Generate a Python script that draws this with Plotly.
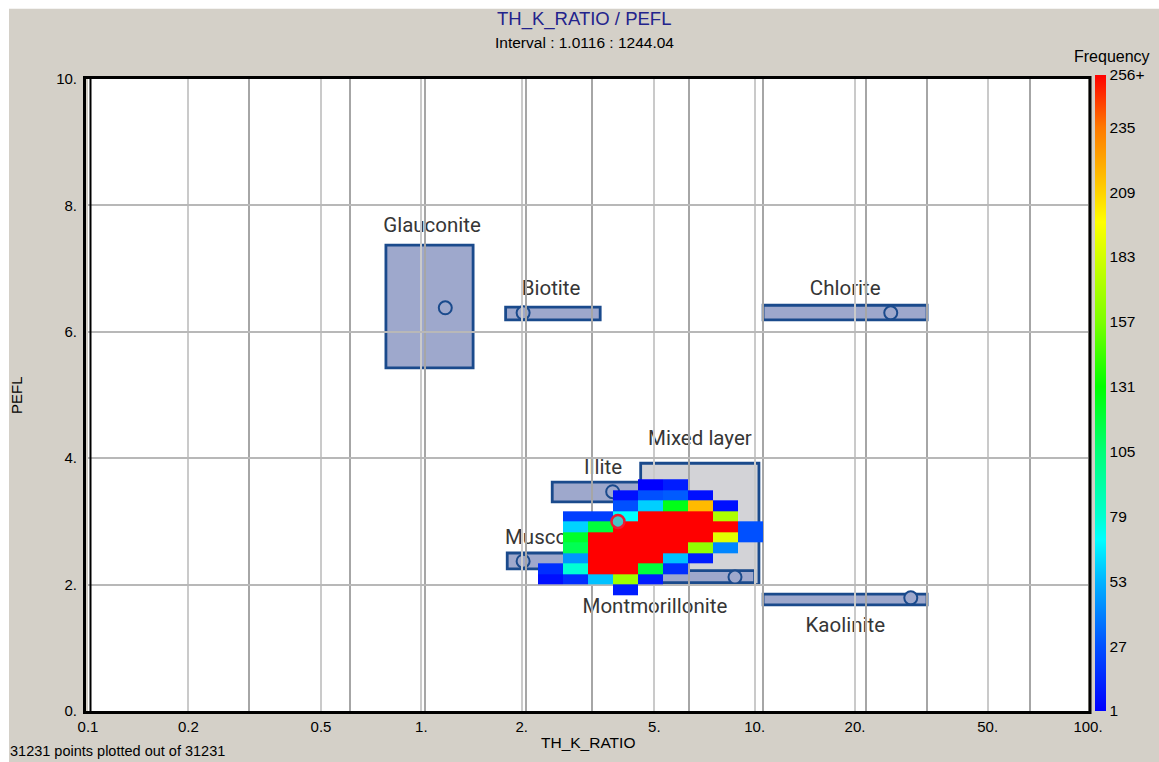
import plotly.graph_objects as go

# ---- frequency grid -------------------------------------------------------
# Columns: log10(TH_K_RATIO) bins of width 0.075 starting at -1 (bins 18..26)
# Rows:    PEFL bins of width 1/6 starting at 0 (bins 11..21)
col_bins = list(range(18, 27))
row_bins = list(range(11, 22))
counts = [
    [None, None, None, 10, None, None, None, None, None],        # PEFL bin 11
    [6, 16, 56, 167, 10, None, None, None, None],                 # 12
    [16, 78, 640, 820, 118, 16, None, None, None],                # 13
    [None, 45, 1350, 1680, 760, 56, 10, None, None],              # 14
    [None, 113, 1520, 1950, 2010, 980, 163, 41, None],            # 15
    [None, 122, 1180, 2460, 2400, 1850, 690, 188, 27],            # 16
    [None, 60, 118, 1420, 1820, 1760, 1040, 530, 27],             # 17
    [None, 21, 21, 70, 720, 910, 480, 172, None],                 # 18
    [None, None, None, 27, 59, 126, 216, 6, None],                # 19
    [None, None, None, 6, 27, 30, 6, None, None],                 # 20
    [None, None, None, None, 1, 10, None, None, None],            # 21
]
x_edges = [10 ** (-1 + 0.075 * k) for k in col_bins + [col_bins[-1] + 1]]
y_edges = [j / 6 for j in row_bins + [row_bins[-1] + 1]]

# ---- mineral reference zones ----------------------------------------------
mineral_names = ["Glauconite", "Biotite", "Chlorite", "Illite", "Muscovite",
                 "Mixed layer", "Montmorillonite", "Kaolinite"]
th_k_lo = [0.783, 1.79, 10.6, 2.47, 1.81, 4.55, 2.48, 10.6]
th_k_hi = [1.43, 3.44, 32.9, 4.99, 3.37, 10.3, 10.0, 32.9]
pefl_lo = [5.43, 6.19, 6.19, 3.31, 2.25, 2.00, 2.03, 1.68]
pefl_hi = [7.37, 6.39, 6.42, 3.62, 2.50, 3.92, 2.22, 1.85]
point_th_k = [1.18, 2.02, 25.6, 3.75, 2.02, None, 8.73, 29.4]
point_pefl = [6.38, 6.30, 6.30, 3.47, 2.37, None, 2.12, 1.79]

# label anchor points (data coordinates)
label_th_k = [1.077, 2.45, 18.7, 3.51, 2.47, 6.85, 5.02, 18.7]
label_pefl = [7.72, 6.72, 6.71, 3.89, 2.77, 4.35, 1.68, 1.39]

# highlighted sample
sample_th_k = [3.89]
sample_pefl = [3.0]

# ---- axes ------------------------------------------------------------------
x_ticks = [0.1, 0.2, 0.5, 1, 2, 5, 10, 20, 50, 100]
x_ticktext = ["0.1", "0.2", "0.5", "1.", "2.", "5.", "10.", "20.", "50.", "100."]
x_minor_grid = [0.304, 0.611, 1.026, 2.06, 3.25, 6.35, 10.6, 21.6, 32.9, 67.0]
y_ticks = [0, 2, 4, 6, 8, 10]
y_ticktext = ["0.", "2.", "4.", "6.", "8.", "10."]

cbar_vals = [1, 27, 53, 79, 105, 131, 157, 183, 209, 235, 256]
cbar_text = ["1", "27", "53", "79", "105", "131", "157", "183", "209", "235", "256+"]

jet = [
    [0.000, "#0000ff"],
    [0.102, "#0050ff"],
    [0.204, "#00b4ff"],
    [0.270, "#00ffff"],
    [0.306, "#00ffd0"],
    [0.408, "#00ff78"],
    [0.510, "#00ff00"],
    [0.612, "#7cff00"],
    [0.714, "#d2ff00"],
    [0.769, "#ffff00"],
    [0.816, "#ffd200"],
    [0.918, "#ff7800"],
    [1.000, "#ff0000"],
]

BOX_FILL = "#9ea8cc"
BOX_LINE = "#1a4a8c"
MIXED_FILL = "#d3d3d7"
TEXT_FONT = "Liberation Sans, Arial, sans-serif"
LABEL_FONT = "Roboto, sans-serif"

# marker radius for the zone points: 6.5 px horizontally (log axis, 333.3 px
# per decade) and vertically (63.2 px per PEFL unit)
R_LOG = 10 ** (6.5 / 333.33)
R_LIN = 6.5 / 63.2

fig = go.Figure()

fig.add_trace(go.Heatmap(
    x=x_edges, y=y_edges, z=counts,
    zmin=1, zmax=256, colorscale=jet, zsmooth=False,
    hoverongaps=False,
    colorbar=dict(
        x=1.007, xanchor="left", xpad=0,
        y=0.5032, yanchor="middle", ypad=0,
        len=1.0063, lenmode="fraction", thickness=11,
        outlinewidth=0, ticks="",
        tickvals=cbar_vals, ticktext=cbar_text,
        tickfont=dict(family=TEXT_FONT, size=15.5, color="#000000"),
    ),
))

fig.add_trace(go.Scatter(
    x=sample_th_k, y=sample_pefl, mode="markers",
    marker=dict(size=13, color="#48c4c4", line=dict(color="#f01830", width=2.5)),
    showlegend=False, hoverinfo="skip",
))

shapes = []
# grey panel with a thin white rim on the left and top
shapes.append(dict(type="rect", xref="paper", yref="paper",
                   x0=-0.088, x1=-0.079, y0=-0.09, y1=1.13,
                   fillcolor="#ffffff", line=dict(width=0), layer="below"))
shapes.append(dict(type="rect", xref="paper", yref="paper",
                   x0=-0.09, x1=1.08, y0=1.111, y1=1.13,
                   fillcolor="#ffffff", line=dict(width=0), layer="below"))

for i, name in enumerate(mineral_names):
    fill = MIXED_FILL if name == "Mixed layer" else BOX_FILL
    shapes.append(dict(type="rect", xref="x", yref="y",
                       x0=th_k_lo[i], x1=th_k_hi[i], y0=pefl_lo[i], y1=pefl_hi[i],
                       fillcolor=fill, line=dict(color=BOX_LINE, width=2.8),
                       layer="below"))
    if point_th_k[i] is not None:
        shapes.append(dict(type="circle", xref="x", yref="y",
                           x0=point_th_k[i] / R_LOG, x1=point_th_k[i] * R_LOG,
                           y0=point_pefl[i] - R_LIN, y1=point_pefl[i] + R_LIN,
                           fillcolor=fill, line=dict(color=BOX_LINE, width=2),
                           layer="below"))

for i, name in enumerate(mineral_names):
    shapes.append(dict(type="rect", xref="x", yref="y",
                       x0=label_th_k[i] / 1.001, x1=label_th_k[i] * 1.001,
                       y0=label_pefl[i] - 0.001, y1=label_pefl[i] + 0.001,
                       fillcolor="rgba(0,0,0,0)", line=dict(width=0),
                       layer="below",
                       label=dict(text=name, textposition="middle center",
                                  font=dict(family=LABEL_FONT, size=20.5,
                                            color="#363636"))))

# plot frame
shapes.append(dict(type="rect", xref="paper", yref="paper",
                   x0=-0.0035, x1=1.002, y0=-0.0024, y1=1.0024,
                   line=dict(color="#000000", width=3), layer="above"))
shapes.append(dict(type="line", xref="paper", yref="paper",
                   x0=0.0025, x1=0.0025, y0=-0.0024, y1=1.0024,
                   line=dict(color="#000000", width=2), layer="above"))

annotations = [
    dict(text="TH_K_RATIO / PEFL", x=0.496, y=1.095, xref="paper", yref="paper",
         showarrow=False, xanchor="center", yanchor="middle",
         font=dict(family=TEXT_FONT, size=18.5, color="#23238c")),
    dict(text="Interval : 1.0116 : 1244.04", x=0.496, y=1.057, xref="paper", yref="paper",
         showarrow=False, xanchor="center", yanchor="middle",
         font=dict(family=TEXT_FONT, size=15.5, color="#000000")),
    dict(text="Frequency", x=1.024, y=1.035, xref="paper", yref="paper",
         showarrow=False, xanchor="center", yanchor="middle",
         font=dict(family=TEXT_FONT, size=16, color="#000000")),
    dict(text="TH_K_RATIO", x=0.5, y=-0.0506, xref="paper", yref="paper",
         showarrow=False, xanchor="center", yanchor="middle",
         font=dict(family=TEXT_FONT, size=15.5, color="#000000")),
    dict(text="PEFL", x=-0.072, y=0.5, xref="paper", yref="paper",
         showarrow=False, xanchor="center", yanchor="middle", textangle=-90,
         font=dict(family=TEXT_FONT, size=15, color="#000000")),
    dict(text="31231 points plotted out of 31231", x=-0.08, y=-0.0795,
         xref="paper", yref="paper", showarrow=False,
         xanchor="left", yanchor="bottom",
         font=dict(family=TEXT_FONT, size=14.5, color="#000000")),
]

fig.update_layout(
    width=1159, height=762,
    margin=dict(l=88, r=71, t=79, b=51),
    paper_bgcolor="#d4d0c8", plot_bgcolor="#ffffff",
    showlegend=False,
    shapes=shapes, annotations=annotations,
    xaxis=dict(
        type="log", range=[-1, 2],
        tickvals=x_ticks, ticktext=x_ticktext,
        ticks="outside", ticklen=2, tickcolor="rgba(0,0,0,0)",
        tickfont=dict(family=TEXT_FONT, size=15, color="#000000"),
        showgrid=True, gridcolor="#cacaca", gridwidth=1.5,
        minor=dict(tickvals=x_minor_grid, showgrid=True,
                   gridcolor="#a6a6a6", gridwidth=1.5, ticks=""),
        zeroline=False, showline=False,
    ),
    yaxis=dict(
        range=[0, 10],
        tickvals=y_ticks, ticktext=y_ticktext,
        ticks="outside", ticklen=7, tickcolor="rgba(0,0,0,0)",
        tickfont=dict(family=TEXT_FONT, size=15, color="#000000"),
        showgrid=True, gridcolor="#b8b8b8", gridwidth=1.5,
        zeroline=False, showline=False,
    ),
)

fig.write_html("out.html")
